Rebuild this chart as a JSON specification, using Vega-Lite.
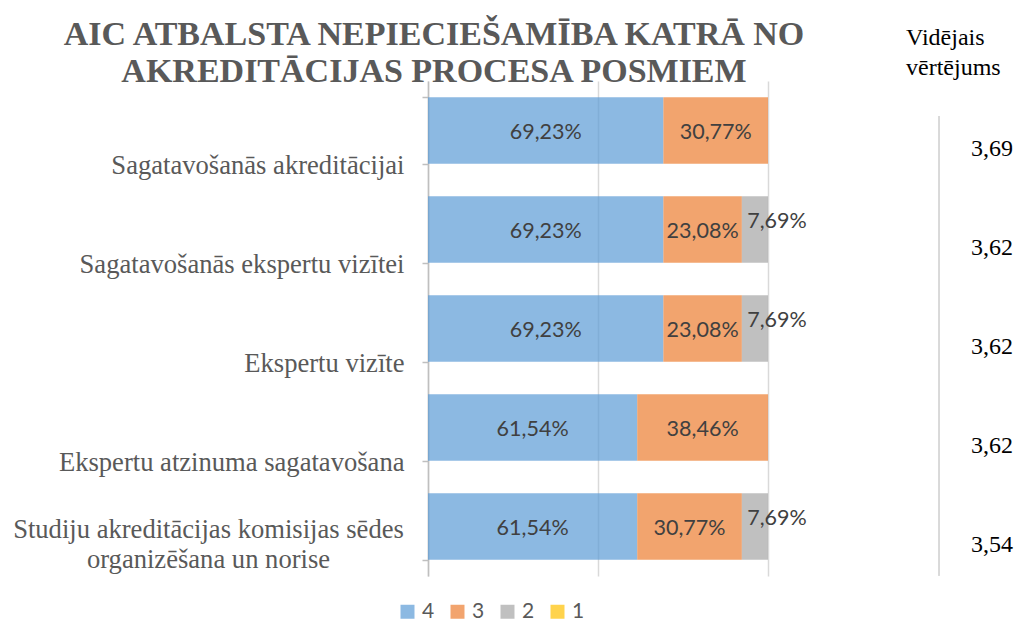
{
  "$schema": "https://vega.github.io/schema/vega-lite/v6.json",
  "background": "white",
  "padding": {"left": 12, "top": 18, "right": 0, "bottom": 0},
  "config": {
    "locale": {"number": {"decimal": ",", "thousands": " ", "grouping": [3], "currency": ["", " €"]}},
    "view": {"stroke": null}
  },
  "datasets": {
    "shares": [
      {"stage": "Sagatavošanās akreditācijai", "rating": "4", "share": 0.6923},
      {"stage": "Sagatavošanās akreditācijai", "rating": "3", "share": 0.3077},
      {"stage": "Sagatavošanās ekspertu vizītei", "rating": "4", "share": 0.6923},
      {"stage": "Sagatavošanās ekspertu vizītei", "rating": "3", "share": 0.2308},
      {"stage": "Sagatavošanās ekspertu vizītei", "rating": "2", "share": 0.0769},
      {"stage": "Ekspertu vizīte", "rating": "4", "share": 0.6923},
      {"stage": "Ekspertu vizīte", "rating": "3", "share": 0.2308},
      {"stage": "Ekspertu vizīte", "rating": "2", "share": 0.0769},
      {"stage": "Ekspertu atzinuma sagatavošana", "rating": "4", "share": 0.6154},
      {"stage": "Ekspertu atzinuma sagatavošana", "rating": "3", "share": 0.3846},
      {"stage": "Studiju akreditācijas komisijas sēdes organizēšana un norise", "rating": "4", "share": 0.6154},
      {"stage": "Studiju akreditācijas komisijas sēdes organizēšana un norise", "rating": "3", "share": 0.3077},
      {"stage": "Studiju akreditācijas komisijas sēdes organizēšana un norise", "rating": "2", "share": 0.0769}
    ],
    "avg": [
      {"stage": "Sagatavošanās akreditācijai", "avg": 3.69},
      {"stage": "Sagatavošanās ekspertu vizītei", "avg": 3.62},
      {"stage": "Ekspertu vizīte", "avg": 3.62},
      {"stage": "Ekspertu atzinuma sagatavošana", "avg": 3.62},
      {"stage": "Studiju akreditācijas komisijas sēdes organizēšana un norise", "avg": 3.54}
    ]
  },
  "bounds": "flush",
  "spacing": 138,
  "resolve": {"scale": {"x": "independent", "y": "shared"}},
  "hconcat": [
    {
      "width": 340,
      "height": 495,
      "title": {
        "text": ["AIC ATBALSTA NEPIECIEŠAMĪBA KATRĀ NO", "AKREDITĀCIJAS PROCESA POSMIEM"],
        "anchor": "start",
        "frame": "group",
        "align": "center",
        "dx": 6,
        "font": "Times New Roman, Liberation Serif, Tinos, serif",
        "fontSize": 34,
        "fontWeight": "bold",
        "color": "#595959",
        "lineHeight": 37,
        "offset": -21
      },
      "data": {"name": "shares"},
      "encoding": {
        "y": {
          "field": "stage",
          "type": "nominal",
          "sort": null,
          "scale": {"paddingInner": 0.33, "paddingOuter": 0.165},
          "axis": {
            "title": null,
            "domainColor": "#bfbfbf",
            "domainWidth": 1.5,
            "tickColor": "#bfbfbf",
            "tickWidth": 1.5,
            "tickSize": 6,
            "tickBand": "extent",
            "labelFont": "Times New Roman, Liberation Serif, Tinos, serif",
            "labelFontSize": 26.6,
            "labelColor": "#595959",
            "labelLimit": 600,
            "labelLineHeight": 30,
            "labelOverlap": false,
            "labelExpr": "datum.value == 'Studiju akreditācijas komisijas sēdes organizēšana un norise' ? ['Studiju akreditācijas komisijas sēdes', 'organizēšana un norise'] : datum.value",
            "labelPadding": {"condition": {"test": "datum.value == 'Studiju akreditācijas komisijas sēdes organizēšana un norise'", "value": 214}, "value": 18},
            "labelOffset": {"condition": {"test": "datum.value == 'Studiju akreditācijas komisijas sēdes organizēšana un norise'", "value": 3}, "value": 35},
            "labelAlign": {"condition": {"test": "datum.value == 'Studiju akreditācijas komisijas sēdes organizēšana un norise'", "value": "center"}, "value": "right"}
          }
        }
      },
      "layer": [
        {
          "mark": {"type": "bar", "opacity": 0.7},
          "encoding": {
            "x": {
              "field": "share",
              "type": "quantitative",
              "stack": "zero",
              "scale": {"domain": [0, 1], "nice": false},
              "axis": {"title": null, "grid": true, "values": [0, 0.5, 1], "labels": false, "ticks": false, "domain": false, "gridColor": "#d9d9d9", "gridWidth": 1.5}
            },
            "color": {
              "field": "rating",
              "type": "nominal",
              "scale": {"domain": ["4", "3", "2", "1"], "range": ["#5B9BD5", "#ED7D31", "#A5A5A5", "#FFC000"]},
              "legend": {
                "title": null,
                "orient": "none",
                "legendX": -31,
                "legendY": 520,
                "direction": "horizontal",
                "symbolType": "square",
                "symbolSize": 196,
                "symbolStrokeWidth": 0,
                "labelFont": "Lato",
                "labelFontSize": 21,
                "labelColor": "#595959",
                "columnPadding": 12,
                "labelOffset": 4
              }
            },
            "order": {"field": "rating", "sort": "descending"}
          }
        },
        {
          "transform": [{"filter": "datum.rating != '2'"}],
          "mark": {"type": "text", "font": "Lato", "fontSize": 21.5, "color": "#404040", "dy": 2},
          "encoding": {
            "x": {"field": "share", "type": "quantitative", "stack": "zero", "bandPosition": 0.5},
            "order": {"field": "rating", "sort": "descending"},
            "text": {"field": "share", "type": "quantitative", "format": ".2%"}
          }
        },
        {
          "transform": [
            {"stack": "share", "groupby": ["stage"], "sort": [{"field": "rating", "order": "descending"}], "as": ["s0", "s1"]},
            {"filter": "datum.rating == '2'"}
          ],
          "mark": {"type": "text", "font": "Lato", "fontSize": 21.5, "color": "#404040", "dx": 9, "dy": -8},
          "encoding": {
            "x": {"field": "s1", "type": "quantitative"},
            "text": {"field": "share", "type": "quantitative", "format": ".2%"}
          }
        }
      ]
    },
    {
      "width": 114,
      "height": 495,
      "title": {
        "text": ["Vidējais", "vērtējums"],
        "anchor": "start",
        "frame": "group",
        "align": "left",
        "font": "Times New Roman, Liberation Serif, Tinos, serif",
        "fontSize": 24,
        "fontWeight": "normal",
        "color": "#000000",
        "lineHeight": 30,
        "offset": 1
      },
      "data": {"name": "avg"},
      "layer": [
        {
          "mark": {"type": "rule", "color": "#d9d9d9", "strokeWidth": 1.5},
          "encoding": {
            "x": {"datum": 0.29, "type": "quantitative", "scale": {"domain": [0, 1], "nice": false}, "axis": null},
            "y": {"datum": "Sagatavošanās akreditācijai", "type": "nominal", "bandPosition": 0.28, "axis": null},
            "y2": {"datum": "Studiju akreditācijas komisijas sēdes organizēšana un norise", "bandPosition": 1.24}
          }
        },
        {
          "mark": {"type": "text", "font": "Times New Roman, Liberation Serif, Tinos, serif", "fontSize": 24, "color": "#000000", "dy": 18},
          "encoding": {
            "x": {"datum": 0.754, "type": "quantitative"},
            "y": {"field": "stage", "type": "nominal", "sort": null, "axis": null},
            "text": {"field": "avg", "type": "quantitative", "format": ".2f"}
          }
        }
      ]
    }
  ]
}
